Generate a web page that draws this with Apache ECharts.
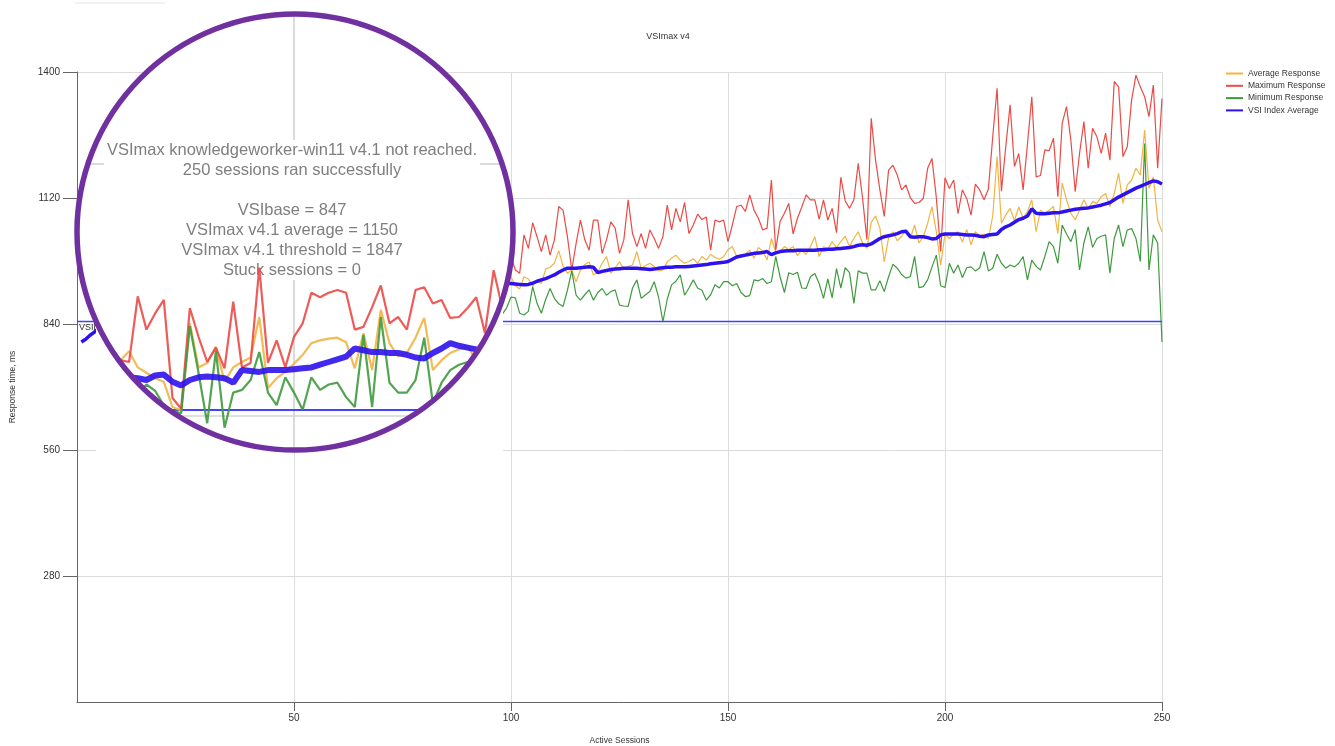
<!DOCTYPE html>
<html>
<head>
<meta charset="utf-8">
<script src="https://cdn.jsdelivr.net/npm/echarts@6/dist/echarts.min.js"></script>
</head>
<body style="margin:0;background:#fff">
<div id="main" style="width:1335px;height:746px;"></div>
<script type="text/javascript">
// values per active session (1..250)
var avgResp = [
    960, 925, 900, 880, 870, 880, 860, 875, 865, 870,
    880, 868, 885, 872, 878, 890, 870, 882, 875, 886,
    872, 884, 878, 890, 875, 882, 888, 876, 895, 902,
    912, 894, 888, 882, 878, 850, 846, 943, 894, 899,
    917, 878, 894, 900, 905, 950, 871, 882, 889, 898,
    908, 921, 924, 926, 927, 922, 893, 932, 891, 958,
    921, 906, 910, 927, 949, 891, 902, 910, 914, 917,
    902, 917, 925, 915, 925, 905, 930, 912, 920, 935,
    908, 926, 918, 940, 912, 925, 930, 915, 938, 920,
    928, 945, 918, 932, 925, 940, 920, 930, 935, 945,
    925, 918, 945, 940, 925, 935, 930, 962, 966, 975,
    1003, 968, 953, 960, 934, 960, 972, 978, 949, 956,
    975, 990, 953, 965, 978, 962, 968, 971, 1001, 964,
    970, 975, 968, 958, 960, 978, 986, 993, 982, 975,
    979, 985, 975, 990, 982, 995, 988, 984, 990, 1005,
    1012, 990, 990, 995, 1004, 986, 1010, 1002, 982, 1030,
    1000, 1001, 1012, 1005, 1012, 992, 1004, 995, 1012, 1034,
    990, 1012, 1006, 1023, 1010, 1023, 1035, 1012, 1030, 1045,
    1020, 1008, 1066, 1080, 1053, 978, 1032, 1045, 1025, 1035,
    1050, 1030, 1060, 1020, 1034, 1064, 1101, 1045, 971, 1040,
    1030, 1040, 1045, 1022, 1050, 1016, 1045, 1036, 1040, 1030,
    1080, 1212, 1064, 1082, 1097, 1070, 1100, 1075, 1090, 1116,
    1045, 1093, 1086, 1093, 1101, 1041, 1153, 1116, 1086, 1071,
    1093, 1116, 1097, 1112, 1108, 1123, 1130, 1101, 1130, 1175,
    1108, 1149, 1160, 1186, 1171, 1271, 1141, 1167, 1071, 1045
];
var maxResp = [
    1050, 990, 960, 935, 920, 960, 905, 930, 890, 940,
    975, 920, 1000, 950, 905, 985, 930, 960, 900, 945,
    960, 915, 940, 900, 885, 905, 890, 880, 895, 902,
    900, 973, 936, 954, 969, 860, 848, 960, 928, 900,
    916, 893, 967, 894, 899, 1005, 899, 924, 894, 928,
    943, 977, 972, 977, 980, 977, 936, 939, 961, 985,
    943, 950, 936, 980, 983, 965, 969, 949, 950, 960,
    972, 932, 1002, 960, 985, 940, 1000, 950, 975, 930,
    990, 945, 1010, 960, 935, 995, 950, 980, 925, 1000,
    955, 970, 1015, 945, 990, 960, 1000, 985, 1010, 990,
    960, 953, 1038, 1008, 1065, 1034, 1001, 1038, 993, 1027,
    1101, 1093, 1034, 960, 1019, 1071, 1027, 1004, 1071, 1071,
    997, 1027, 1067, 1053, 997, 1027, 1116, 1041, 1012, 1041,
    1008, 1049, 1030, 1008, 1034, 1104, 1049, 1097, 1067, 1110,
    1041, 1060, 1084, 1072, 1078, 1004, 1071, 1067, 1071, 1023,
    1060, 1101, 1104, 1090, 1127, 1093, 1075, 1049, 1053, 1160,
    1004, 1068, 1086, 1108, 1040, 1075, 1100, 1127, 1116, 1116,
    1073, 1116, 1071, 1097, 1043, 1166, 1114, 1097, 1116, 1197,
    1120, 1028, 1297, 1204, 1138, 1079, 1182, 1193, 1171, 1138,
    1149, 1121, 1108, 1110, 1119, 1186, 1208, 1121, 1001, 1165,
    1141, 1160, 1085, 1138, 1119, 1082, 1151, 1138, 1116, 1140,
    1256, 1364, 1135, 1234, 1327, 1190, 1219, 1138, 1240, 1345,
    1167, 1170, 1227, 1225, 1253, 1123, 1286, 1323, 1249, 1134,
    1219, 1290, 1186, 1275, 1256, 1219, 1264, 1204, 1379, 1367,
    1212, 1234, 1338, 1393, 1367, 1345, 1301, 1371, 1186, 1341
];
var minResp = [
    945, 900, 875, 855, 840, 850, 830, 845, 835, 840,
    850, 835, 845, 828, 840, 852, 832, 845, 838, 848,
    836, 850, 842, 855, 838, 846, 852, 840, 848, 880,
    870, 865, 875, 868, 852, 846, 843, 940, 888, 832,
    912, 827, 866, 869, 880, 911, 866, 852, 883, 866,
    847, 883, 869, 875, 877, 861, 850, 930, 850, 950,
    877, 866, 866, 880, 927, 854, 877, 891, 897, 900,
    895, 888, 895, 885, 872, 890, 878, 865, 892, 880,
    870, 888, 876, 895, 868, 882, 890, 874, 886, 879,
    893, 870, 884, 888, 875, 890, 870, 862, 876, 900,
    898, 864, 860, 868, 923, 886, 864, 895, 919, 897,
    885, 879, 915, 958, 904, 893, 905, 916, 893, 910,
    919, 904, 912, 916, 882, 880, 879, 920, 938, 897,
    905, 912, 934, 900, 845, 895, 927, 935, 949, 904,
    920, 938, 920, 915, 893, 905, 927, 920, 934, 934,
    925, 930, 910, 901, 903, 938, 936, 941, 930, 934,
    990, 945, 910, 954, 950, 955, 920, 919, 945, 952,
    930, 897, 940, 898, 963, 920, 965, 954, 886, 958,
    953, 953, 916, 916, 936, 912, 945, 973, 964, 950,
    942, 945, 990, 921, 923, 938, 967, 993, 925, 921,
    975, 953, 971, 943, 965, 967, 958, 965, 1001, 958,
    964, 995, 975, 964, 971, 967, 975, 990, 938, 982,
    968, 960, 990, 1023, 1012, 975, 1060, 1040, 1023, 1050,
    960, 1020, 1056, 1010, 1030, 1035, 1038, 953, 1030, 1060,
    1012, 1049, 1052, 1030, 979, 1241, 960, 1038, 1020, 800
];
var vsiIndex = [
    800, 806, 815, 822, 830, 836, 840, 845, 849, 853,
    856, 858, 861, 863, 865, 866, 868, 870, 871, 872,
    873, 874, 876, 877, 878, 879, 880, 881, 882, 882,
    883, 882, 880, 885, 886, 878, 874, 880, 883, 884,
    883, 882, 877, 891, 890, 889, 891, 891, 891, 892,
    893, 894, 897, 900, 903, 906, 915, 913, 911, 911,
    910, 910, 908, 905, 904, 910, 915, 921, 918, 916,
    914, 913, 914, 915, 916, 917, 917, 918, 919, 919,
    920, 920, 921, 921, 922, 922, 923, 923, 924, 924,
    925, 925, 926, 926, 927, 928, 928, 929, 930, 930,
    929, 928, 927, 928, 931, 935, 938, 941, 945, 949,
    955, 960, 964, 964, 964, 965, 966, 967, 966, 954,
    957, 959, 961, 962, 963, 964, 964, 964, 964, 963,
    962, 961, 962, 964, 965, 966, 966, 967, 967, 967,
    968, 969, 970, 971, 972, 974, 975, 976, 977, 979,
    984, 989, 991, 993, 995, 997, 998, 999, 1001, 994,
    998, 1001, 1002, 1003, 1003, 1004, 1004, 1004, 1004, 1004,
    1005, 1005, 1006, 1006, 1007, 1008, 1009, 1010, 1012, 1015,
    1016, 1015, 1018, 1024, 1030, 1034, 1036, 1038, 1041, 1045,
    1046, 1034, 1033, 1034, 1034, 1032, 1029, 1030, 1038, 1040,
    1040, 1040, 1040, 1039, 1038, 1038, 1037, 1035, 1034, 1038,
    1039, 1040, 1050, 1056, 1060, 1066, 1072, 1075, 1080, 1096,
    1086, 1085, 1085, 1086, 1087, 1087, 1089, 1091, 1093, 1095,
    1096, 1097, 1098, 1100, 1102, 1104, 1107, 1110, 1116, 1122,
    1127, 1132, 1137, 1142, 1146, 1150, 1154, 1158, 1156, 1151
];
var vsiBase = 847;
var seriesNames = ['Average Response', 'Maximum Response', 'Minimum Response', 'VSI Index Average'];
var infoLines = [
    'VSImax knowledgeworker-win11 v4.1 not reached.',
    '250 sessions ran successfully',
    '',
    'VSIbase = 847',
    'VSImax v4.1 average = 1150',
    'VSImax v4.1 threshold = 1847',
    'Stuck sessions = 0'
];

var colors = ['#f2b443', '#eb4a46', '#3f9a3f', '#2c12ee'];
var font = '"Liberation Sans Narrow", "Liberation Sans", Arial, sans-serif';

function pairs(arr){
    return arr.map(function(v, i){ return [i + 1, v]; });
}

// magnifier: centre, radius
var cx = 295, cy = 232, r = 217;

// white area under the lens arc, hides the zoomed lines outside the circle
function lensMask(x0, x1){
    var pts = [[x0, 452], [x1, 452]];
    var t1 = Math.acos((x1 - cx) / r);
    var t2 = Math.acos((x0 - cx) / r);
    for (var k = 0; k <= 80; k++) {
        var t = t1 + (t2 - t1) * k / 80;
        pts.push([cx + r * Math.cos(t), cy + r * Math.sin(t)]);
    }
    return pts;
}

var myChart = echarts.init(document.getElementById('main'));

var series = [];
var lists = [avgResp, maxResp, minResp, vsiIndex];
// main chart
for (var i = 0; i < 4; i++) {
    var s = {
        name: seriesNames[i],
        type: 'line',
        xAxisIndex: 0,
        yAxisIndex: 0,
        data: pairs(lists[i]),
        showSymbol: false,
        color: colors[i],
        lineStyle: {color: colors[i], width: i == 3 ? 3.5 : 1.2},
        z: 2
    };
    if (i == 3) {
        s.markLine = {
            silent: true,
            symbol: ['none', 'none'],
            lineStyle: {color: '#4040ff', width: 1.3, type: 'solid', opacity: 1},
            label: {show: true, formatter: 'VSIbase', position: 'insideStartBottom', fontSize: 9, color: '#333', distance: 2},
            data: [{yAxis: vsiBase}]
        };
    }
    series.push(s);
}
// gridlines inside the lens
series.push({
    name: 'lensGrid',
    type: 'line',
    xAxisIndex: 1,
    yAxisIndex: 1,
    data: [[50, 1000]],
    showSymbol: false,
    lineStyle: {width: 0},
    z: 21,
    markLine: {
        silent: true,
        z: 21,
        symbol: ['none', 'none'],
        label: {show: false},
        lineStyle: {color: '#cfcfcf', width: 1.5, type: 'solid'},
        data: [{xAxis: 50}, {yAxis: 1120}]
    }
});
// zoomed lines inside the lens
for (var j = 0; j < 4; j++) {
    var z = {
        name: seriesNames[j],
        type: 'line',
        xAxisIndex: 2,
        yAxisIndex: 2,
        data: pairs(lists[j]),
        showSymbol: false,
        color: colors[j],
        lineStyle: {color: colors[j], width: j == 3 ? 6 : 2.2, opacity: 0.9},
        z: 23
    };
    if (j == 3) {
        z.markLine = {
            silent: true,
            z: 23,
            symbol: ['none', 'none'],
            label: {show: false},
            data: [
                {yAxis: 840, lineStyle: {color: '#d4d4d4', width: 1.5, type: 'solid'}},
                {yAxis: vsiBase, lineStyle: {color: '#4343ff', width: 2, type: 'solid'}}
            ]
        };
    }
    series.push(z);
}

var option = {
    animation: false,
    backgroundColor: '#fff',
    textStyle: {fontFamily: font},
    title: {
        text: 'VSImax v4',
        left: 663,
        top: 27,
        textAlign: 'center',
        textStyle: {fontSize: 9, fontWeight: 'normal', color: '#333', fontFamily: font}
    },
    legend: {
        data: seriesNames,
        orient: 'vertical',
        left: 1226,
        top: 69,
        padding: 0,
        icon: 'rect',
        itemWidth: 17,
        itemHeight: 2,
        itemGap: 3.3,
        textStyle: {fontSize: 8.5, color: '#333', fontFamily: font}
    },
    grid: [
        {left: 77, top: 72, width: 1085, height: 630, outerBoundsMode: 'none', containLabel: false},
        {left: 86, top: 12, width: 418, height: 440, outerBoundsMode: 'none'},
        {left: 102, top: 230, width: 396, height: 222, outerBoundsMode: 'none'}
    ],
    xAxis: [
        {
            gridIndex: 0, type: 'value', min: 0, max: 250, interval: 50,
            name: 'Active Sessions', nameLocation: 'middle', nameGap: 34,
            nameTextStyle: {fontSize: 8.5, color: '#333'},
            axisLine: {lineStyle: {color: '#666'}},
            axisTick: {length: 9, lineStyle: {color: '#666'}},
            axisLabel: {showMinLabel: false, fontSize: 10, color: '#333', margin: 11},
            splitLine: {lineStyle: {color: '#dcdcdc'}}
        },
        {gridIndex: 1, type: 'value', min: 26.037, max: 74.194, show: false},
        {gridIndex: 2, type: 'value', min: 27.880, max: 73.502, show: false}
    ],
    yAxis: [
        {
            gridIndex: 0, type: 'value', min: 0, max: 1400, interval: 280,
            name: 'Response time, ms', nameLocation: 'middle', nameGap: 60, nameRotate: 90,
            nameTextStyle: {fontSize: 8.5, color: '#333'},
            axisLine: {show: true, lineStyle: {color: '#666'}},
            axisTick: {show: true, length: 14, lineStyle: {color: '#666'}},
            axisLabel: {
                showMinLabel: false, fontSize: 10, color: '#333', margin: 17,
                formatter: function(v){ return String(v); }
            },
            splitLine: {lineStyle: {color: '#dcdcdc'}}
        },
        {gridIndex: 1, type: 'value', min: 800, max: 1288.9, show: false},
        {gridIndex: 2, type: 'value', min: 800, max: 1046.67, show: false}
    ],
    graphic: [
        {type: 'line', z: 1, shape: {x1: 75, y1: 3, x2: 165, y2: 3}, style: {stroke: '#e4e4e4', lineWidth: 1}},
        {type: 'circle', z: 20, shape: {cx: cx, cy: cy, r: r + 2}, style: {fill: '#fff'}},
        {
            type: 'text', z: 22, x: 292, y: 140,
            style: {
                text: infoLines.join('\n'),
                font: '16.5px "Liberation Sans", Arial, sans-serif',
                fill: '#7f7f7f',
                align: 'center',
                verticalAlign: 'top',
                lineHeight: 20,
                backgroundColor: '#fff',
                padding: [0, 3]
            }
        },
        {type: 'polygon', z: 24, shape: {points: lensMask(96, 503)}, style: {fill: '#fff'}},
        {type: 'circle', z: 25, shape: {cx: cx, cy: cy, r: r + 1}, style: {fill: 'none', stroke: '#7030a0', lineWidth: 5.5}}
    ],
    series: series
};

myChart.setOption(option);
</script>
</body>
</html>
